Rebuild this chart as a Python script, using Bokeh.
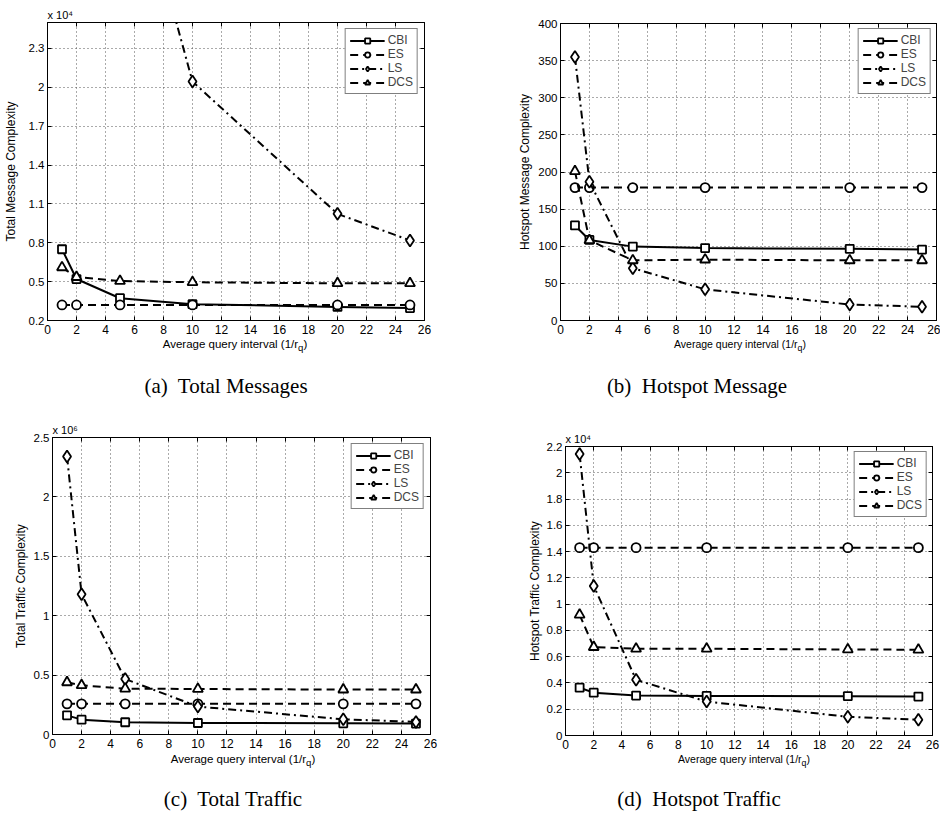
from bokeh.plotting import figure
from bokeh.models import Range1d, FixedTicker, LinearAxis, Title, Div
from bokeh.layouts import column, row
from bokeh.embed import file_html
from bokeh.resources import INLINE

# ---------------- data ----------------
x_q = [1, 2, 5, 10, 20, 25]
x_ticks = [0, 2, 4, 6, 8, 10, 12, 14, 16, 18, 20, 22, 24, 26]
series_names = ["CBI", "ES", "LS", "DCS"]

# (a) Total Messages (x 10^4)
a_cbi = [0.75, 0.52, 0.372, 0.326, 0.305, 0.296]
a_es = [0.32, 0.32, 0.32, 0.32, 0.32, 0.32]
a_ls = [20.45, 10.22, 4.09, 2.044, 1.023, 0.818]
a_dcs = [0.61, 0.535, 0.505, 0.495, 0.487, 0.487]
a_yticks = [0.2, 0.5, 0.8, 1.1, 1.4, 1.7, 2.0, 2.3]
a_ylabels = ["0.2", "0.5", "0.8", "1.1", "1.4", "1.7", "2", "2.3"]

# (b) Hotspot Message
b_cbi = [128, 108.5, 99.5, 97.5, 96.5, 95.5]
b_es = [179, 179, 179, 179, 179, 179]
b_ls = [355, 187, 70.5, 42, 21.5, 18.5]
b_dcs = [201, 108, 81, 82, 81, 81]
b_yticks = [0, 50, 100, 150, 200, 250, 300, 350, 400]
b_ylabels = ["0", "50", "100", "150", "200", "250", "300", "350", "400"]

# (c) Total Traffic (x 10^6)
c_cbi = [0.161, 0.125, 0.103, 0.097, 0.094, 0.092]
c_es = [0.258, 0.258, 0.258, 0.258, 0.258, 0.258]
c_ls = [2.34, 1.18, 0.467, 0.235, 0.128, 0.106]
c_dcs = [0.439, 0.414, 0.386, 0.383, 0.378, 0.378]
c_yticks = [0, 0.5, 1.0, 1.5, 2.0, 2.5]
c_ylabels = ["0", "0.5", "1", "1.5", "2", "2.5"]

# (d) Hotspot Traffic (x 10^4)
d_cbi = [0.364, 0.326, 0.304, 0.301, 0.299, 0.296]
d_es = [1.43, 1.43, 1.43, 1.43, 1.43, 1.43]
d_ls = [2.142, 1.139, 0.424, 0.258, 0.143, 0.120]
d_dcs = [0.919, 0.673, 0.66, 0.66, 0.655, 0.653]
d_yticks = [0, 0.2, 0.4, 0.6, 0.8, 1.0, 1.2, 1.4, 1.6, 1.8, 2.0, 2.2]
d_ylabels = ["0", "0.2", "0.4", "0.6", "0.8", "1", "1.2", "1.4", "1.6", "1.8", "2", "2.2"]

XLABEL_HTML = "Average query interval (1/r<sub>q</sub>)"

# ---------------- styles ----------------
SANS = "Liberation Sans"
SERIF = "Liberation Serif"
STYLES = {
    "CBI": dict(dash="solid", marker="square", size=8),
    "ES": dict(dash="8 5", marker="circle", size=9),
    "LS": dict(dash="8 4 2 4", marker="diamond", size=12),
    "DCS": dict(dash="8 5", marker="triangle", size=10),
}


def build(W, H, borders, yr, yticks, ylabels, ylabel, ys, mult, legend_margin,
          ylab_standoff):
    bl, br, bt, bb = borders
    p = figure(width=W, height=H, x_range=Range1d(0, 26), y_range=Range1d(*yr),
               output_backend="svg", toolbar_location=None,
               min_border_left=bl, min_border_right=br,
               min_border_top=bt, min_border_bottom=bb,
               background_fill_color="white", border_fill_color="white")
    p.outline_line_color = "black"
    p.outline_line_width = 1

    p.xaxis.ticker = FixedTicker(ticks=x_ticks)
    p.yaxis.ticker = FixedTicker(ticks=yticks)
    p.yaxis.major_label_overrides = dict(zip(yticks, ylabels))
    for ax in (p.xaxis, p.yaxis):
        ax.major_tick_in = 4
        ax.major_tick_out = 0
        ax.minor_tick_line_color = None
        ax.axis_line_color = "black"
        ax.major_tick_line_color = "black"
        ax.major_label_text_font = SANS
        ax.major_label_text_color = "black"
    p.xaxis.major_label_text_font_size = "12px"
    p.yaxis.major_label_text_font_size = "11.5px"
    p.xaxis.major_label_standoff = 4
    p.yaxis.major_label_standoff = 3
    p.yaxis.axis_label = ylabel
    p.yaxis.axis_label_text_font = SANS
    p.yaxis.axis_label_text_font_size = "12px"
    p.yaxis.axis_label_text_font_style = "normal"
    p.yaxis.axis_label_text_color = "black"
    p.yaxis.axis_label_standoff = ylab_standoff

    # tick marks on top and right edges (box)
    for loc, tk in (("above", x_ticks), ("right", yticks)):
        ax = LinearAxis(ticker=FixedTicker(ticks=tk), major_label_text_font_size="0px",
                        major_label_text_color=None, major_label_standoff=0,
                        major_tick_in=4, major_tick_out=0,
                        minor_tick_line_color=None, axis_line_color="black")
        p.add_layout(ax, loc)

    if mult:
        p.add_layout(Title(text=mult, align="left", text_font=SANS,
                           text_font_size="11px", text_font_style="normal",
                           text_color="black", standoff=3), "above")

    p.xgrid.ticker = FixedTicker(ticks=x_ticks)
    p.ygrid.ticker = FixedTicker(ticks=yticks)
    p.grid.grid_line_color = "#555555"
    p.grid.grid_line_dash = "1 3"
    p.grid.grid_line_width = 1

    for name, yv in zip(series_names, ys):
        st = STYLES[name]
        p.line(x_q, yv, line_color="black", line_width=2, line_dash=st["dash"],
               legend_label=name)
        p.scatter(x_q, yv, marker=st["marker"], size=st["size"], fill_color="white",
                  line_color="black", line_width=1.8, legend_label=name)

    lg = p.legend[0]
    lg.location = "top_right"
    lg.margin = legend_margin
    lg.padding = 4
    lg.spacing = 0
    lg.glyph_width = 35
    lg.glyph_height = 13
    lg.label_height = 13
    lg.label_standoff = 3
    lg.label_text_font = SANS
    lg.label_text_font_size = "12px"
    lg.border_line_color = "black"
    lg.border_line_width = 1.5
    lg.background_fill_alpha = 1
    return p


def texts_div(W, H, xl_center, xl_top, xl_fs, cap, cap_center, cap_top):
    html = (
        f'<div style="position:relative;width:{W}px;height:{H}px;color:black;">'
        f'<div style="position:absolute;left:{xl_center - 190}px;width:380px;top:{xl_top}px;'
        f'text-align:center;font-family:\'{SANS}\';font-size:{xl_fs}px;line-height:12px;'
        f'white-space:nowrap;">{XLABEL_HTML}</div>'
        f'<div style="position:absolute;left:{cap_center - 200}px;width:400px;top:{cap_top}px;'
        f'text-align:center;font-family:\'{SERIF}\';font-size:21px;line-height:24px;'
        f'white-space:nowrap;">{cap}</div>'
        '</div>'
    )
    return Div(text=html, width=W, height=H, margin=0)


pa = build(470, 338, (47, 46, 22, 18), (0.2, 2.5), a_yticks, a_ylabels,
           "Total Message Complexity", [a_cbi, a_es, a_ls, a_dcs], "x 10\u2074", 6, 8)
pb = build(470, 338, (90, 4, 23, 18), (0, 400), b_yticks, b_ylabels,
           "Hotspot Message Complexity", [b_cbi, b_es, b_ls, b_dcs], None, 5, 3)
pc = build(470, 350, (52, 40, 35, 18), (0, 2.5), c_yticks, c_ylabels,
           "Total Traffic Complexity", [c_cbi, c_es, c_ls, c_dcs], "x 10\u2076", 6, 3)
pd_ = build(470, 350, (95, 8, 44, 17), (0, 2.2), d_yticks, d_ylabels,
            "Hotspot Traffic Complexity", [d_cbi, d_es, d_ls, d_dcs], "x 10\u2074", 5, 2)

da = texts_div(470, 64, 235, 0, 11.5, "(a)&nbsp; Total Messages", 226, 36)
db = texts_div(470, 64, 270, 0, 10.5, "(b)&nbsp; Hotspot Message", 227, 36)
dc = texts_div(470, 62, 243, 1, 11.5, "(c)&nbsp; Total Traffic", 233, 35)
dd = texts_div(470, 62, 274, 1, 10.5, "(d)&nbsp; Hotspot Traffic", 229, 35)

layout = column(row(column(pa, da), column(pb, db)),
                row(column(pc, dc), column(pd_, dd)))
open("out.html", "w").write(file_html(layout, INLINE))
